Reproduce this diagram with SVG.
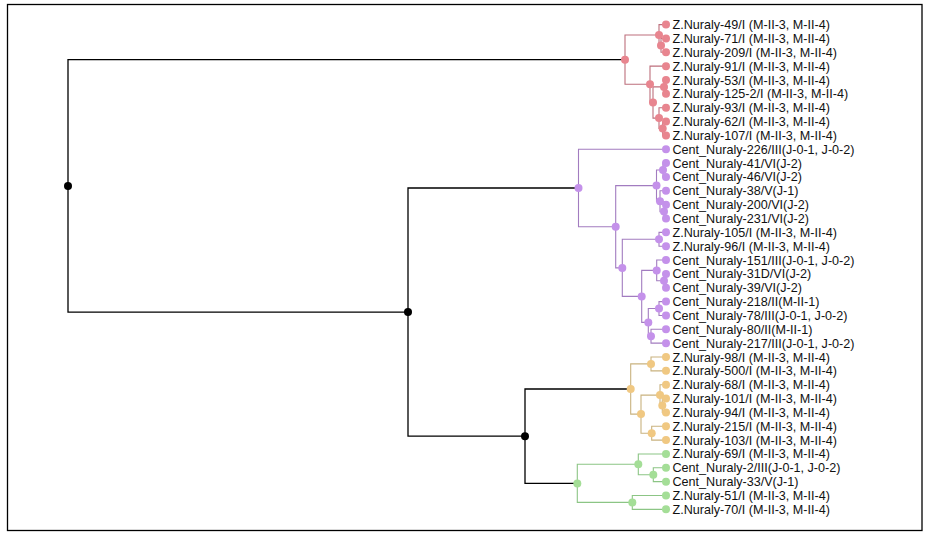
<svg xmlns="http://www.w3.org/2000/svg" width="927" height="539" viewBox="0 0 927 539">
<style>
.frame{fill:#fff;stroke:#000;stroke-width:1.3}
.e{fill:none;stroke-width:1.1}
.ek{stroke:#000;stroke-width:1.3}
.er{stroke:#bd6f7c}
.ep{stroke:#a27cc0}
.ey{stroke:#c9b27f}
.eg{stroke:#8cc585}
.dk{fill:#000}
.dr{fill:#e8858f}
.dp{fill:#c491ea}
.dy{fill:#f0c882}
.dg{fill:#a4de97}
text{font-family:"Liberation Sans",Arial,sans-serif;font-size:12.6px;fill:#111}
</style>
<rect class="frame" x="7.5" y="4.5" width="914.5" height="526"/>
<g id="connectors" class="e">
<path class="ek" d="M68,185.9V59.7H625M68,185.9V312.1H408M408,312.1V188H578.5M408,312.1V436.2H525M525,436.2V389H630.7M525,436.2V483.4H577.3"/>
<path class="er" d="M625,59.7V35H659M625,59.7V84.3H650M659,35V24.6H666M659,35V45.4H661M661,45.4V38.45H666M661,45.4V52.3H666M650,84.3V66.15H666M650,84.3V102.5H653M653,102.5V86.9H664M653,102.5V118.1H659M664,86.9V80H666M664,86.9V93.85H666M659,118.1V107.7H666M659,118.1V128.5H662.7M662.7,128.5V121.55H666M662.7,128.5V135.4H666"/>
<path class="ep" d="M578.5,188V149.25H666M578.5,188V226.7H615.7M615.7,226.7V185.6H656.5M615.7,226.7V267.9H622.3M656.5,185.6V170H663M656.5,185.6V201.2H660M663,170V163.1H666M663,170V176.95H666M660,201.2V190.8H666M660,201.2V211.6H664M664,211.6V204.65H666M664,211.6V218.5H666M622.3,267.9V239.3H659M622.3,267.9V296.4H641.7M659,239.3V232.35H666M659,239.3V246.2H666M641.7,296.4V270.4H656.7M641.7,296.4V322.4H648.3M656.7,270.4V260.05H666M656.7,270.4V280.8H664M664,280.8V273.9H666M664,280.8V287.75H666M648.3,322.4V308.5H659M648.3,322.4V336.2H651M659,308.5V301.6H666M659,308.5V315.45H666M651,336.2V329.3H666M651,336.2V343.15H666"/>
<path class="ey" d="M630.7,389V363.9H651M630.7,389V414.1H641M651,363.9V357H666M651,363.9V370.85H666M641,414.1V395.1H660M641,414.1V433.2H651.7M660,395.1V384.7H666M660,395.1V405.5H662.3M662.3,405.5V398.55H666M662.3,405.5V412.4H666M651.7,433.2V426.25H666M651.7,433.2V440.1H666"/>
<path class="eg" d="M577.3,483.4V464.3H638.3M577.3,483.4V502.4H632.3M638.3,464.3V453.95H666M638.3,464.3V474.7H653.3M653.3,474.7V467.8H666M653.3,474.7V481.65H666M632.3,502.4V495.5H666M632.3,502.4V509.35H666"/>
</g>
<g id="internal-nodes">
<g id="n-root"><circle class="dk" cx="68" cy="185.9" r="4"/></g>
<g id="n1"><circle class="dk" cx="408" cy="312.1" r="4"/></g>
<g id="n2"><circle class="dk" cx="525" cy="436.2" r="4"/></g>
<g id="r-root"><circle class="dr" cx="625" cy="59.7" r="4"/></g>
<g id="r-top"><circle class="dr" cx="659" cy="35" r="4"/></g>
<g id="r-top1"><circle class="dr" cx="661" cy="45.4" r="4"/></g>
<g id="r-low"><circle class="dr" cx="650" cy="84.3" r="4"/></g>
<g id="r-x"><circle class="dr" cx="653" cy="102.5" r="4"/></g>
<g id="r-a"><circle class="dr" cx="664" cy="86.9" r="4"/></g>
<g id="r-b"><circle class="dr" cx="659" cy="118.1" r="4"/></g>
<g id="r-c"><circle class="dr" cx="662.7" cy="128.5" r="4"/></g>
<g id="p-root"><circle class="dp" cx="578.5" cy="188" r="4"/></g>
<g id="p1"><circle class="dp" cx="615.7" cy="226.7" r="4"/></g>
<g id="p2"><circle class="dp" cx="656.5" cy="185.6" r="4"/></g>
<g id="p-41-46"><circle class="dp" cx="663" cy="170" r="4"/></g>
<g id="p-q"><circle class="dp" cx="660" cy="201.2" r="4"/></g>
<g id="p-r"><circle class="dp" cx="664" cy="211.6" r="4"/></g>
<g id="p3"><circle class="dp" cx="622.3" cy="267.9" r="4"/></g>
<g id="p4"><circle class="dp" cx="659" cy="239.3" r="4"/></g>
<g id="p5"><circle class="dp" cx="641.7" cy="296.4" r="4"/></g>
<g id="p6"><circle class="dp" cx="656.7" cy="270.4" r="4"/></g>
<g id="p-31-39"><circle class="dp" cx="664" cy="280.8" r="4"/></g>
<g id="p7"><circle class="dp" cx="648.3" cy="322.4" r="4"/></g>
<g id="p8"><circle class="dp" cx="659" cy="308.5" r="4"/></g>
<g id="p9"><circle class="dp" cx="651" cy="336.2" r="4"/></g>
<g id="y-root"><circle class="dy" cx="630.7" cy="389" r="4"/></g>
<g id="y1"><circle class="dy" cx="651" cy="363.9" r="4"/></g>
<g id="y2"><circle class="dy" cx="641" cy="414.1" r="4"/></g>
<g id="y3"><circle class="dy" cx="660" cy="395.1" r="4"/></g>
<g id="y-101-94"><circle class="dy" cx="662.3" cy="405.5" r="4"/></g>
<g id="y4"><circle class="dy" cx="651.7" cy="433.2" r="4"/></g>
<g id="g-root"><circle class="dg" cx="577.3" cy="483.4" r="4"/></g>
<g id="g1"><circle class="dg" cx="638.3" cy="464.3" r="4"/></g>
<g id="g3"><circle class="dg" cx="653.3" cy="474.7" r="4"/></g>
<g id="g2"><circle class="dg" cx="632.3" cy="502.4" r="4"/></g>
</g>
<g id="leaves">
<g id="leaf-0"><circle class="dr" cx="666" cy="24.6" r="4"/><text x="672.5" y="29.1">Z.Nuraly-49/I (M-II-3, M-II-4)</text></g>
<g id="leaf-1"><circle class="dr" cx="666" cy="38.45" r="4"/><text x="672.5" y="42.95">Z.Nuraly-71/I (M-II-3, M-II-4)</text></g>
<g id="leaf-2"><circle class="dr" cx="666" cy="52.3" r="4"/><text x="672.5" y="56.8">Z.Nuraly-209/I (M-II-3, M-II-4)</text></g>
<g id="leaf-3"><circle class="dr" cx="666" cy="66.15" r="4"/><text x="672.5" y="70.65">Z.Nuraly-91/I (M-II-3, M-II-4)</text></g>
<g id="leaf-4"><circle class="dr" cx="666" cy="80" r="4"/><text x="672.5" y="84.5">Z.Nuraly-53/I (M-II-3, M-II-4)</text></g>
<g id="leaf-5"><circle class="dr" cx="666" cy="93.85" r="4"/><text x="672.5" y="98.35">Z.Nuraly-125-2/I (M-II-3, M-II-4)</text></g>
<g id="leaf-6"><circle class="dr" cx="666" cy="107.7" r="4"/><text x="672.5" y="112.2">Z.Nuraly-93/I (M-II-3, M-II-4)</text></g>
<g id="leaf-7"><circle class="dr" cx="666" cy="121.55" r="4"/><text x="672.5" y="126.05">Z.Nuraly-62/I (M-II-3, M-II-4)</text></g>
<g id="leaf-8"><circle class="dr" cx="666" cy="135.4" r="4"/><text x="672.5" y="139.9">Z.Nuraly-107/I (M-II-3, M-II-4)</text></g>
<g id="leaf-9"><circle class="dp" cx="666" cy="149.25" r="4"/><text x="672.5" y="153.75">Cent_Nuraly-226/III(J-0-1, J-0-2)</text></g>
<g id="leaf-10"><circle class="dp" cx="666" cy="163.1" r="4"/><text x="672.5" y="167.6">Cent_Nuraly-41/VI(J-2)</text></g>
<g id="leaf-11"><circle class="dp" cx="666" cy="176.95" r="4"/><text x="672.5" y="181.45">Cent_Nuraly-46/VI(J-2)</text></g>
<g id="leaf-12"><circle class="dp" cx="666" cy="190.8" r="4"/><text x="672.5" y="195.3">Cent_Nuraly-38/V(J-1)</text></g>
<g id="leaf-13"><circle class="dp" cx="666" cy="204.65" r="4"/><text x="672.5" y="209.15">Cent_Nuraly-200/VI(J-2)</text></g>
<g id="leaf-14"><circle class="dp" cx="666" cy="218.5" r="4"/><text x="672.5" y="223">Cent_Nuraly-231/VI(J-2)</text></g>
<g id="leaf-15"><circle class="dp" cx="666" cy="232.35" r="4"/><text x="672.5" y="236.85">Z.Nuraly-105/I (M-II-3, M-II-4)</text></g>
<g id="leaf-16"><circle class="dp" cx="666" cy="246.2" r="4"/><text x="672.5" y="250.7">Z.Nuraly-96/I (M-II-3, M-II-4)</text></g>
<g id="leaf-17"><circle class="dp" cx="666" cy="260.05" r="4"/><text x="672.5" y="264.55">Cent_Nuraly-151/III(J-0-1, J-0-2)</text></g>
<g id="leaf-18"><circle class="dp" cx="666" cy="273.9" r="4"/><text x="672.5" y="278.4">Cent_Nuraly-31D/VI(J-2)</text></g>
<g id="leaf-19"><circle class="dp" cx="666" cy="287.75" r="4"/><text x="672.5" y="292.25">Cent_Nuraly-39/VI(J-2)</text></g>
<g id="leaf-20"><circle class="dp" cx="666" cy="301.6" r="4"/><text x="672.5" y="306.1">Cent_Nuraly-218/II(M-II-1)</text></g>
<g id="leaf-21"><circle class="dp" cx="666" cy="315.45" r="4"/><text x="672.5" y="319.95">Cent_Nuraly-78/III(J-0-1, J-0-2)</text></g>
<g id="leaf-22"><circle class="dp" cx="666" cy="329.3" r="4"/><text x="672.5" y="333.8">Cent_Nuraly-80/II(M-II-1)</text></g>
<g id="leaf-23"><circle class="dp" cx="666" cy="343.15" r="4"/><text x="672.5" y="347.65">Cent_Nuraly-217/III(J-0-1, J-0-2)</text></g>
<g id="leaf-24"><circle class="dy" cx="666" cy="357" r="4"/><text x="672.5" y="361.5">Z.Nuraly-98/I (M-II-3, M-II-4)</text></g>
<g id="leaf-25"><circle class="dy" cx="666" cy="370.85" r="4"/><text x="672.5" y="375.35">Z.Nuraly-500/I (M-II-3, M-II-4)</text></g>
<g id="leaf-26"><circle class="dy" cx="666" cy="384.7" r="4"/><text x="672.5" y="389.2">Z.Nuraly-68/I (M-II-3, M-II-4)</text></g>
<g id="leaf-27"><circle class="dy" cx="666" cy="398.55" r="4"/><text x="672.5" y="403.05">Z.Nuraly-101/I (M-II-3, M-II-4)</text></g>
<g id="leaf-28"><circle class="dy" cx="666" cy="412.4" r="4"/><text x="672.5" y="416.9">Z.Nuraly-94/I (M-II-3, M-II-4)</text></g>
<g id="leaf-29"><circle class="dy" cx="666" cy="426.25" r="4"/><text x="672.5" y="430.75">Z.Nuraly-215/I (M-II-3, M-II-4)</text></g>
<g id="leaf-30"><circle class="dy" cx="666" cy="440.1" r="4"/><text x="672.5" y="444.6">Z.Nuraly-103/I (M-II-3, M-II-4)</text></g>
<g id="leaf-31"><circle class="dg" cx="666" cy="453.95" r="4"/><text x="672.5" y="458.45">Z.Nuraly-69/I (M-II-3, M-II-4)</text></g>
<g id="leaf-32"><circle class="dg" cx="666" cy="467.8" r="4"/><text x="672.5" y="472.3">Cent_Nuraly-2/III(J-0-1, J-0-2)</text></g>
<g id="leaf-33"><circle class="dg" cx="666" cy="481.65" r="4"/><text x="672.5" y="486.15">Cent_Nuraly-33/V(J-1)</text></g>
<g id="leaf-34"><circle class="dg" cx="666" cy="495.5" r="4"/><text x="672.5" y="500">Z.Nuraly-51/I (M-II-3, M-II-4)</text></g>
<g id="leaf-35"><circle class="dg" cx="666" cy="509.35" r="4"/><text x="672.5" y="513.85">Z.Nuraly-70/I (M-II-3, M-II-4)</text></g>
</g>
</svg>
